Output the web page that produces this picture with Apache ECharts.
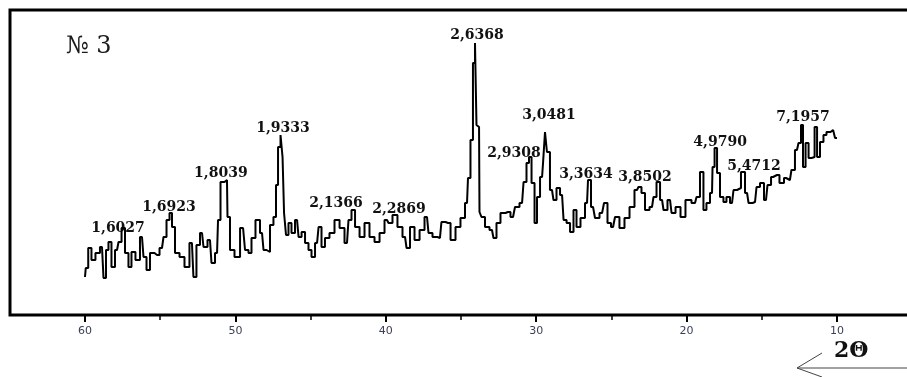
<!DOCTYPE html>
<html>
<head>
<meta charset="utf-8">
<script src="https://cdn.jsdelivr.net/npm/echarts@6/dist/echarts.min.js"></script>
<style>html,body{margin:0;padding:0;background:#fff}#c{width:907px;height:377px}</style>
</head>
<body>
<div id="c"></div>
<script>
// 2θ (degrees) of each sample point
const twoTheta = [60.00,59.90,59.67,59.47,59.14,58.87,58.67,58.54,58.34,58.14,57.87,57.67,57.47,57.21,57.01,56.81,56.48,56.21,56.01,55.81,55.55,55.21,54.88,54.68,54.48,54.28,54.15,53.88,53.55,53.22,52.89,52.69,52.49,52.22,52.02,51.69,51.49,51.22,51.09,50.89,50.56,50.49,50.23,49.89,49.49,49.23,49.03,48.83,48.50,48.23,48.03,47.83,47.57,47.37,47.23,47.10,46.90,46.83,46.70,46.57,46.37,46.17,45.90,45.70,45.50,45.24,45.04,44.84,44.57,44.37,44.18,43.91,43.58,43.24,42.91,42.58,42.38,42.18,41.91,41.58,41.25,40.92,40.58,40.25,39.92,39.72,39.39,39.06,38.72,38.52,38.26,37.92,37.59,37.26,37.06,36.73,36.40,36.20,35.86,35.53,35.20,34.87,34.60,34.47,34.27,34.14,34.00,33.94,33.80,33.74,33.54,33.27,32.94,32.74,32.54,32.21,31.88,31.54,31.28,30.94,30.74,30.55,30.41,30.21,30.01,29.88,29.61,29.48,29.35,29.22,28.95,28.75,28.55,28.28,28.08,27.88,27.62,27.42,27.22,26.89,26.62,26.49,26.22,25.96,25.62,25.36,25.16,24.89,24.63,24.30,23.96,23.63,23.30,23.10,22.90,22.63,22.30,22.10,21.90,21.63,21.44,21.10,20.90,20.57,20.24,19.91,19.44,19.24,18.98,18.78,18.58,18.31,18.24,18.04,17.91,17.65,17.45,17.25,16.98,16.78,16.52,16.25,15.98,15.78,15.45,15.25,14.99,14.72,14.52,14.25,13.99,13.66,13.39,13.13,12.93,12.66,12.46,12.33,12.19,11.99,11.79,11.59,11.39,11.26,11.00,10.80,10.60,10.26,10.00];
// intensity (arbitrary units) at each point
const intensity = [38,47,67,55,62,68,37,65,73,48,65,73,87,62,48,63,55,78,58,45,62,60,67,78,95,102,88,62,58,48,72,38,70,82,68,75,52,62,95,133,135,98,65,58,87,65,62,77,95,82,65,63,90,98,130,168,180,158,102,80,92,82,95,78,83,72,65,58,72,88,68,77,82,95,87,72,95,105,88,78,92,78,73,82,95,92,100,88,78,67,88,75,85,98,82,78,77,93,92,75,88,97,112,137,175,252,272,190,188,103,98,88,85,77,92,102,103,98,108,112,133,152,158,132,92,118,138,152,183,163,125,115,127,120,95,92,83,105,88,97,112,135,108,97,102,112,92,88,98,87,97,108,125,128,122,105,108,118,133,115,105,115,102,108,98,115,112,118,143,105,112,122,148,167,142,118,113,118,112,125,127,143,122,112,113,128,132,115,130,138,140,132,137,135,145,165,172,190,148,172,157,158,188,158,173,180,183,185,177];

// labelled peaks: interplanar spacing d (Å), 2θ and intensity at the peak
const peakD = ["1,6027","1,6923","1,8039","1,9333","2,1366","2,2869","2,6368","2,9308","3,0481","3,3634","3,8502","4,9790","5,4712","7,1957"];
const peakTwoTheta = [57.47,54.28,50.70,46.90,42.18,39.39,34.00,30.41,29.35,26.49,23.10,18.04,16.25,12.33];
const peakIntensity = [87,102,135,180,105,100,272,158,183,135,128,167,143,190];

const xTicks = [10,20,30,40,50,60];
const sampleName = "№ 3";
const axisName = "2Θ";

// label placement (style only)
const labelOffsets = [[-5,0],[-2,-6],[-4,-7],[1,-7],[-17,-7],[4,-6],[1,-8],[-16,-4],[3,-17],[-3,-6],[5,-10],[4,-6],[11,-6],[1,-8]];

const chart = echarts.init(document.getElementById('c'), null, {renderer:'canvas'});
const lineData = twoTheta.map((t,i)=>[t,intensity[i]]);
const peakData = peakD.map((d,i)=>({
  value:[peakTwoTheta[i], peakIntensity[i]], name:d,
  label:{offset:labelOffsets[i]}
}));

chart.setOption({
  animation:false,
  grid:{left:85,right:70,top:10,bottom:62,containLabel:false},
  xAxis:{
    type:'value', min:10, max:60, interval:10, inverse:true,
    axisLine:{show:false},
    axisTick:{show:true, length:7, lineStyle:{color:'#000', width:2}},
    minorTick:{show:true, splitNumber:2, length:5, lineStyle:{color:'#000', width:1.5}},
    splitLine:{show:false}, minorSplitLine:{show:false},
    axisLabel:{margin:11, fontFamily:'DejaVu Sans', fontSize:11, color:'#3a3f55',
      formatter:v=> xTicks.indexOf(v)>=0 ? String(v) : ''}
  },
  yAxis:{type:'value', min:0, max:305, show:false},
  series:[
    {type:'line', data:lineData, step:'middle', showSymbol:false, clip:false,
     lineStyle:{color:'#000', width:2}},
    {type:'scatter', data:peakData, symbolSize:0, clip:false,
     itemStyle:{opacity:1},
     label:{show:true, position:'inside', formatter:p=>p.name, opacity:1,
       textBorderWidth:0, textShadowBlur:0,
       fontFamily:'DejaVu Serif', fontWeight:'bold', fontSize:14, color:'#111'}}
  ],
  graphic:[
    {type:'polyline', shape:{points:[[907,10],[10,10],[10,315],[907,315]]},
     style:{stroke:'#000', lineWidth:3, fill:null}},
    {type:'text', left:66, top:35, style:{text:sampleName, font:'24px "DejaVu Serif"', fill:'#1a1a1a'}},
    {type:'text', left:834, top:340, style:{text:axisName, font:'bold 22px "DejaVu Serif"', fill:'#111'}},
    {type:'line', shape:{x1:797,y1:368,x2:907,y2:368}, style:{stroke:'#444', lineWidth:1}},
    {type:'polyline', shape:{points:[[822,353],[797,368],[822,377]]}, style:{stroke:'#444', lineWidth:1, fill:null}}
  ]
});
</script>
</body>
</html>
